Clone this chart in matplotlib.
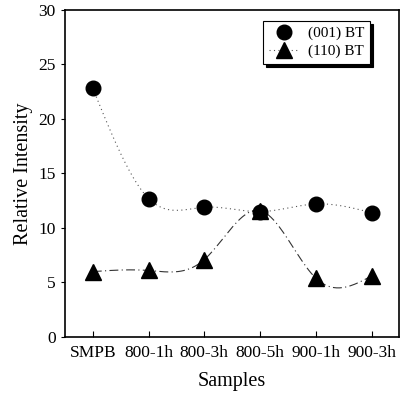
import numpy as np
import matplotlib
matplotlib.use('Agg')
import matplotlib.pyplot as plt

samples = ['SMPB', '800-1h', '800-3h', '800-5h', '900-1h', '900-3h']
bt_001 = [22.8, 12.7, 11.9, 11.5, 12.2, 11.4]
bt_110 = [6.0, 6.1, 7.1, 11.6, 5.4, 5.6]


def natural_spline(x, y, n=200):
    # natural cubic spline through the points, for the smooth connecting line
    x = np.asarray(x, float)
    y = np.asarray(y, float)
    k = len(x)
    h = np.diff(x)
    a = np.zeros((k, k))
    b = np.zeros(k)
    a[0, 0] = a[-1, -1] = 1
    for i in range(1, k - 1):
        a[i, i - 1] = h[i - 1]
        a[i, i] = 2 * (h[i - 1] + h[i])
        a[i, i + 1] = h[i]
        b[i] = 6 * ((y[i + 1] - y[i]) / h[i] - (y[i] - y[i - 1]) / h[i - 1])
    m = np.linalg.solve(a, b)
    xs = np.linspace(x[0], x[-1], n)
    idx = np.clip(np.searchsorted(x, xs) - 1, 0, k - 2)
    t0 = x[idx]
    t1 = x[idx + 1]
    hh = t1 - t0
    ys = (m[idx] * (t1 - xs) ** 3 / (6 * hh) + m[idx + 1] * (xs - t0) ** 3 / (6 * hh)
          + (y[idx] / hh - m[idx] * hh / 6) * (t1 - xs)
          + (y[idx + 1] / hh - m[idx + 1] * hh / 6) * (xs - t0))
    return xs, ys


plt.rcParams['font.family'] = ['Liberation Serif', 'DejaVu Serif']

fig = plt.figure(figsize=(4.01, 3.96), dpi=100)
ax = fig.add_axes([0.162, 0.149, 0.834, 0.826])

pos = np.arange(len(samples))
xs, ys = natural_spline(pos, bt_001)
ax.plot(xs, ys, color='#555555', lw=0.8, dashes=(1, 3))
xs, ys = natural_spline(pos, bt_110)
ax.plot(xs, ys, color='#333333', lw=0.8, dashes=(8, 3, 1, 3))

ax.plot(pos, bt_001, 'o', color='black', ms=10.5)
ax.plot(pos, bt_110, '^', color='black', ms=11)

h1 = plt.Line2D([], [], ls='none', marker='o', ms=10.5, mfc='black', mec='black')
h2 = plt.Line2D([], [], color='#555555', lw=0.8, dashes=(1, 3), marker='^', ms=11,
                mfc='black', mec='black')
leg = ax.legend([h1, h2], ['(001) BT', '(110) BT'], loc='upper right', fontsize=11,
                fancybox=False, shadow={'color': 'black', 'alpha': 1}, framealpha=1,
                edgecolor='black', handlelength=2.0, borderpad=0.35, labelspacing=0.3,
                handletextpad=0.6, bbox_to_anchor=(0.935, 0.99))
leg.get_frame().set_linewidth(0.8)

ax.set_xlim(-0.5, 5.5)
ax.set_ylim(0, 30)
ax.set_yticks([0, 5, 10, 15, 20, 25, 30])
ax.set_xticks(pos)
ax.set_xticklabels(samples)
ax.tick_params(axis='x', direction='in', length=4, labelsize=12.5, pad=6)
ax.tick_params(axis='y', direction='out', length=3, labelsize=12.5)
ax.set_xlabel('Samples', fontsize=14.5, labelpad=8)
ax.set_ylabel('Relative Intensity', fontsize=14.5)
for s in ax.spines.values():
    s.set_linewidth(1.2)

fig.savefig('out.png', dpi=100)
